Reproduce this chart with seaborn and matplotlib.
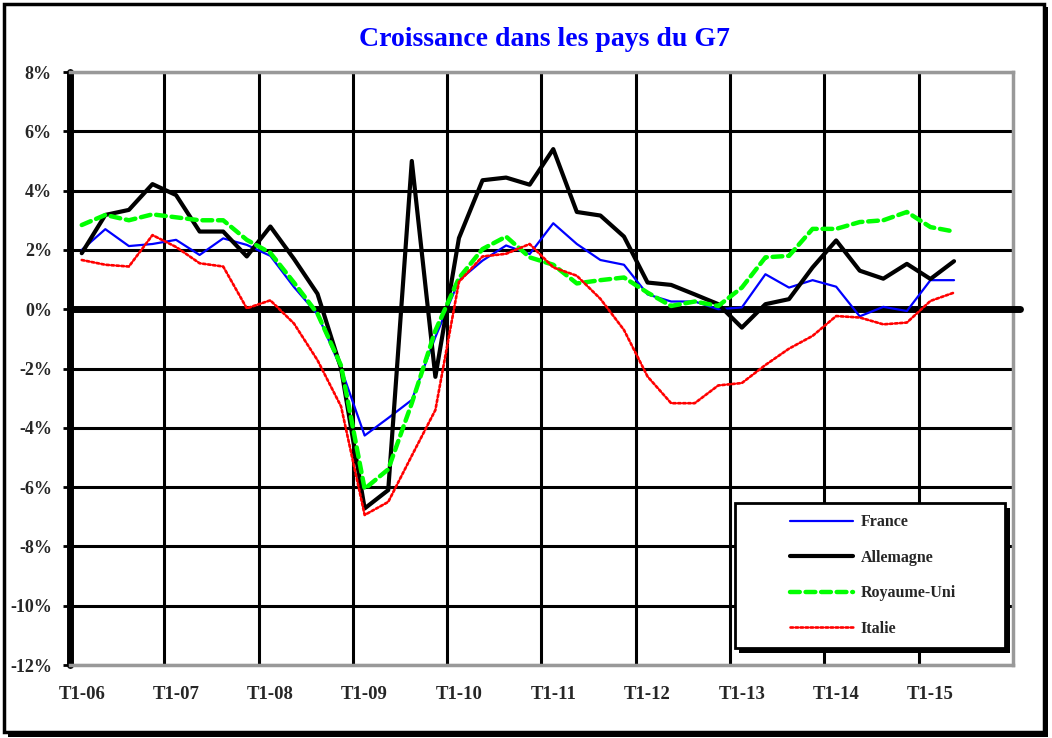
import matplotlib
matplotlib.use("Agg")
import matplotlib.pyplot as plt
from matplotlib.patches import Rectangle
import numpy as np
import pandas as pd
import seaborn as sns

# quarters T1-06 .. T4-15 (category axis), data stops at T2-15
years = ["06", "07", "08", "09", "10", "11", "12", "13", "14", "15"]
quarters = [f"T{q}-{y}" for y in years for q in range(1, 5)]
year_labels = [f"T1-{y}" for y in years]

france = [2.0, 2.7, 2.13, 2.2, 2.34, 1.83, 2.39, 2.17, 1.8, 0.75,
          -0.17, -2.0, -4.26, -3.67, -3.06, -0.94, 0.97, 1.64, 2.15, 1.86,
          2.9, 2.2, 1.66, 1.5, 0.5, 0.26, 0.26, 0.0, 0.06, 1.18,
          0.73, 0.98, 0.76, -0.24, 0.08, -0.06, 0.98, 0.98]
allemagne = [1.89, 3.18, 3.35, 4.22, 3.85, 2.62, 2.62, 1.78, 2.79, 1.7,
             0.52, -2.0, -6.72, -6.1, 5.0, -2.28, 2.4, 4.35, 4.44, 4.2,
             5.4, 3.28, 3.16, 2.45, 0.9, 0.82, 0.5, 0.17, -0.62, 0.17,
             0.34, 1.41, 2.32, 1.3, 1.03, 1.53, 1.02, 1.62]
royaume_uni = [2.84, 3.18, 3.0, 3.2, 3.1, 3.0, 3.0, 2.34, 1.9, 0.9,
               -0.15, -1.9, -6.06, -5.4, -3.17, -0.72, 1.05, 2.03, 2.45, 1.75,
               1.5, 0.87, 0.98, 1.07, 0.56, 0.11, 0.26, 0.11, 0.73, 1.75,
               1.8, 2.71, 2.71, 2.94, 3.0, 3.28, 2.77, 2.62]
italie = [1.66, 1.5, 1.44, 2.5, 2.1, 1.55, 1.44, 0.03, 0.3, -0.48,
          -1.72, -3.28, -6.94, -6.5, -4.94, -3.4, 0.92, 1.78, 1.87, 2.2,
          1.41, 1.13, 0.35, -0.7, -2.27, -3.17, -3.17, -2.57, -2.49, -1.88,
          -1.33, -0.9, -0.23, -0.28, -0.51, -0.45, 0.28, 0.56]

series = {
    "France": france,
    "Allemagne": allemagne,
    "Royaume-Uni": royaume_uni,
    "Italie": italie,
}
styles = {
    "France": dict(color="#0000FF", lw=1.6, ls="-"),
    "Allemagne": dict(color="black", lw=3.0, ls="-"),
    "Royaume-Uni": dict(color="#00FF00", lw=3.2, ls=(0, (2.2, 1.3))),
    "Italie": dict(color="#FF0000", lw=1.9, ls=(0, (1, 0.9))),
}

df = pd.DataFrame(series)
df["pos"] = np.arange(len(df))

sns.set_style("white")
plt.rcParams["font.family"] = ["Liberation Serif", "DejaVu Serif"]
plt.rcParams["font.weight"] = "bold"

fig = plt.figure(figsize=(10.52, 7.38), dpi=100)
ax = fig.add_axes([0.0665, 0.0989, 0.8964, 0.8035])

for name in series:
    st = styles[name]
    sns.lineplot(data=df, x="pos", y=name, ax=ax, color=st["color"],
                 linewidth=st["lw"], linestyle=st["ls"], label=name,
                 dash_capstyle="round", zorder=5)

ax.set_xlim(-0.5, len(quarters) - 0.5)
ax.set_ylim(-12, 8)

# grid
ax.set_yticks(np.arange(-12, 9, 2))
ax.set_yticklabels([f"{v}%" for v in range(-12, 9, 2)], fontsize=13,
                   fontweight="bold")
ax.set_xticks(np.arange(0, len(quarters), 4))
ax.set_xticklabels(year_labels, fontsize=13.5, fontweight="bold")
ax.set_xticks(np.arange(3.5, len(quarters) - 1, 4), minor=True)
ax.grid(axis="y", which="major", color="black", lw=2.2, zorder=1)
ax.grid(axis="x", which="minor", color="black", lw=2.2, zorder=1)
ax.tick_params(axis="x", which="both", length=0, pad=15)
ax.tick_params(axis="y", length=5, width=2, direction="out", pad=8,
               color="black", left=True)
ax.axhline(0, xmin=0, xmax=1.007, color="black", lw=5,
           solid_capstyle="round", clip_on=False, zorder=4)

ax.set_xlabel("")
ax.set_ylabel("")

for side in ["top", "right", "bottom"]:
    ax.spines[side].set_color("#999999")
    ax.spines[side].set_linewidth(2.5)
ax.spines["left"].set_color("black")
ax.spines["left"].set_linewidth(5)
ax.spines["left"].set_capstyle("round")

# legend box with shadow
bx, by, bw, bh = 0.705, 0.029, 0.2865, 0.244
ax.add_patch(Rectangle((bx + 0.005, by - 0.008), bw, bh, transform=ax.transAxes,
                       facecolor="black", edgecolor="none", zorder=6))
ax.add_patch(Rectangle((bx, by), bw, bh, transform=ax.transAxes,
                       facecolor="white", edgecolor="black", lw=2, zorder=7))
leg = ax.legend(loc="center", bbox_to_anchor=(bx + bw / 2 + 0.003, by + bh / 2),
                frameon=False, labelspacing=1.22,
                handlelength=4.0, handletextpad=0.45,
                prop={"weight": "bold", "size": 11.5})
leg.set_zorder(8)

fig.text(0.518, 0.947, "Croissance dans les pays du G7", color="#0000FF",
         fontsize=20, fontweight="bold", ha="center", va="center")

# outer chart frame with shadow
fig.patches.append(Rectangle((0.0075, 0.002), 0.9885, 0.988, transform=fig.transFigure,
                             facecolor="black", edgecolor="none", zorder=-2))
fig.patches.append(Rectangle((0.004, 0.008), 0.9885, 0.986, transform=fig.transFigure,
                             facecolor="white", edgecolor="black", lw=2.5, zorder=-1))

fig.savefig("out.png", dpi=100)
